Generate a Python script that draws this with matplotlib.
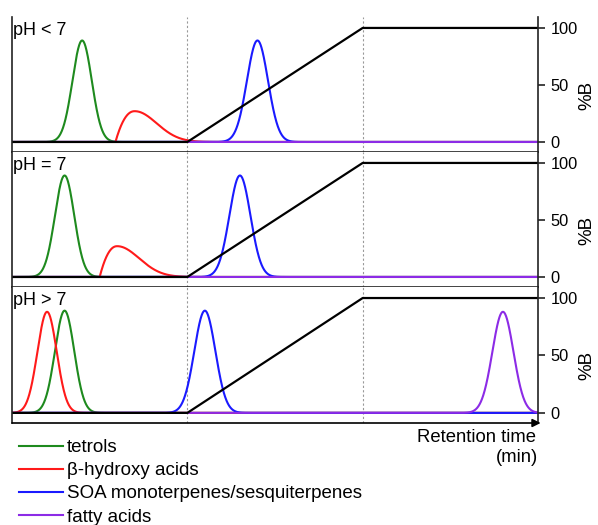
import numpy as np
import matplotlib
matplotlib.use("Agg")
from matplotlib import pyplot as plt
from matplotlib.lines import Line2D

plt.rcParams['font.family'] = ['Liberation Sans', 'DejaVu Sans']

# gradient programme (%B vs retention time, min)
GRAD_T = [0, 10, 20, 30]
GRAD_B = [0, 0, 100, 100]

PANEL_LABELS = ["pH < 7", "pH = 7", "pH > 7"]

# peak tables per panel: centre (min), height (%), width (min)
TETROL_T = [4.0, 3.0, 3.0]
TETROL_H = [89, 89, 89]
# beta-hydroxy acids: tailing peaks (start, apex) in panels 1-2, plain peak in panel 3
HYDROXY_START = [5.9, 5.0, None]
HYDROXY_T = [7.0, 6.0, 2.0]
HYDROXY_H = [27, 27, 88]
SOA_T = [14.0, 13.0, 11.0]
SOA_H = [89, 89, 89]
FATTY_T = [None, None, 28.0]
FATTY_H = [0, 0, 88]

PEAK_W = 0.55
LATE_W = 0.6
TAIL_W = 1.25

COLORS = {"tetrols": "#1e8a1e", "hydroxy": "#ff1a1a", "soa": "#1a1aff", "fatty": "#8c2be6"}
LEGEND_LABELS = ["tetrols", "β-hydroxy acids", "SOA monoterpenes/sesquiterpenes", "fatty acids"]


def gauss_peak(t, centre, height, width):
    return height * np.exp(-(t - centre) ** 2 / (2 * width ** 2))


def tailing_peak(t, start, apex, height, tail):
    # steep front from the start point, slow gaussian tail after the apex
    u = np.clip((t - start) / (apex - start), 0, 1)
    front = height * (1 - (1 - u) ** 2.2)
    back = height * np.exp(-(t - apex) ** 2 / (2 * tail ** 2))
    y = np.where(t < apex, front, back)
    return np.where(t < start, 0.0, y)


t = np.linspace(0, 30, 3001)

fig = plt.figure(figsize=(5.98, 5.25), dpi=100)
W, H = 598.0, 525.0
tops = [17, 152, 287]
bots = [152, 287, 423]
axes = []
for i in range(3):
    ax = fig.add_axes([12 / W, 1 - bots[i] / H, 526 / W, (bots[i] - tops[i]) / H])
    axes.append(ax)

    ax.plot(t, gauss_peak(t, TETROL_T[i], TETROL_H[i], PEAK_W), color=COLORS["tetrols"], lw=1.5)
    if HYDROXY_START[i] is None:
        hy = gauss_peak(t, HYDROXY_T[i], HYDROXY_H[i], PEAK_W)
    else:
        hy = tailing_peak(t, HYDROXY_START[i], HYDROXY_T[i], HYDROXY_H[i], TAIL_W)
    ax.plot(t, hy, color=COLORS["hydroxy"], lw=1.5)
    ax.plot(t, gauss_peak(t, SOA_T[i], SOA_H[i], LATE_W), color=COLORS["soa"], lw=1.5)
    if FATTY_T[i] is None:
        fa = np.zeros_like(t)
    else:
        fa = gauss_peak(t, FATTY_T[i], FATTY_H[i], LATE_W)
    ax.plot(t, fa, color=COLORS["fatty"], lw=1.5)
    ax.plot(GRAD_T, GRAD_B, color="black", lw=1.6)

    for xv in (10, 20):
        ax.axvline(xv, color="#999999", lw=0.8, ls=(0, (2, 2)), zorder=0)

    ax.set_xlim(0, 30)
    ax.set_ylim(-8.8, 109.6)
    ax.spines['top'].set_visible(False)
    for s in ('left', 'right', 'bottom'):
        ax.spines[s].set_linewidth(1.2)
        ax.spines[s].set_color('#222222')
    if i == 2:
        ax.spines['bottom'].set_visible(False)
    ax.tick_params(axis='x', bottom=False, labelbottom=False)
    ax.yaxis.tick_right()
    ax.set_yticks([0, 50, 100])
    ax.tick_params(axis='y', direction='out', length=5, width=1.2, pad=4,
                   labelsize=11.8, color='#222222')
    ax.text(0.002, 0.965, PANEL_LABELS[i], transform=ax.transAxes, va='top', ha='left',
            fontsize=13)
    ax.text(1.093, 0.42, "%B", transform=ax.transAxes, rotation=90, va='center', ha='center',
            fontsize=13.5)

# time axis arrow
axes[2].annotate('', xy=(1.005, 0), xytext=(0, 0), xycoords='axes fraction',
                 arrowprops=dict(arrowstyle='-|>', color='black', lw=1.2,
                                 mutation_scale=12, shrinkA=0, shrinkB=0))

fig.text(536 / W, 1 - 438 / H, "Retention time", ha='right', va='center', fontsize=13.3)
fig.text(538 / W, 1 - 458 / H, "(min)", ha='right', va='center', fontsize=13.3)

handles = [Line2D([], [], color=COLORS[k], lw=1.5) for k in ("tetrols", "hydroxy", "soa", "fatty")]
fig.legend(handles, LEGEND_LABELS, loc='upper left', bbox_to_anchor=(19 / W, 1 - 439 / H),
           frameon=False, fontsize=13.5, handlelength=2.35, handletextpad=0.2,
           labelspacing=0.32, borderpad=0, borderaxespad=0)

fig.savefig("out.png", dpi=100)
